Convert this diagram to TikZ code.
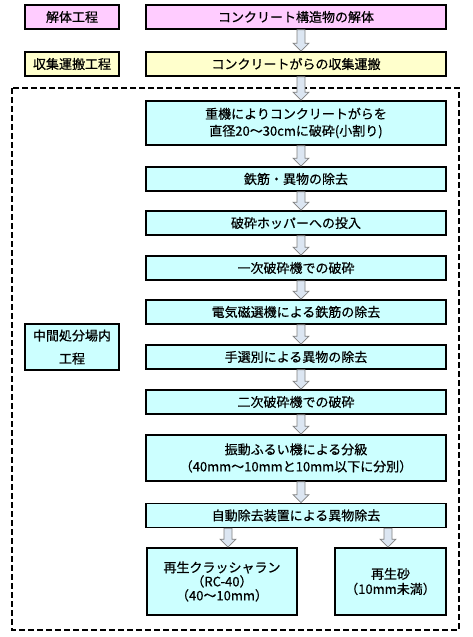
\documentclass[tikz,border=0pt]{standalone}
\usepackage{fontspec}
\setmainfont{Noto Sans CJK JP}[FakeBold=0.5]
\usetikzlibrary{calc}
\definecolor{demolishfill}{HTML}{FFCCFF}
\definecolor{collectfill}{HTML}{FFFFCC}
\definecolor{procfill}{HTML}{CCFFFF}
\definecolor{flowfill}{HTML}{DCE6F2}
\definecolor{flowline}{HTML}{808080}
\newcommand{\flowarrow}[3][5pt]{%
  \filldraw[flow] let \p1=(#2.south), \p2=([xshift=#1]#3.north) in
    (\x2-4pt,\y1) -- (\x2-4pt,\y2+8pt) -- (\x2-8pt,\y2+8pt) -- (\x2,\y2)
    -- (\x2+8pt,\y2+8pt) -- (\x2+4pt,\y2+8pt) -- (\x2+4pt,\y1) -- cycle;}

\begin{document}
\begin{tikzpicture}[x=1pt, y=-1pt,
        every node/.style={font=\fontsize{13}{17}\selectfont},
        stagebox/.style={draw, line width=1.6pt, minimum width=94pt, minimum height=24pt, inner sep=0pt, align=center},
        procbox/.style={draw, line width=1.6pt, fill=procfill, minimum width=300pt, minimum height=24pt, inner sep=0pt, align=center},
        flow/.style={fill=flowfill, draw=flowline, line width=0.7pt}]
            \useasboundingbox (0,0) rectangle (473,637);
            \node[stagebox, fill=demolishfill] (demolish) at (72,17) {解体工程};
            \node[procbox, fill=demolishfill] (demolishwork) at (296,17) {コンクリート構造物の解体};
            \node[stagebox, fill=collectfill] (collect) at (72,64) {収集運搬工程};
            \node[procbox, fill=collectfill] (collectwork) at (296,64) {コンクリートがらの収集運搬};
            \node[stagebox, fill=procfill, minimum height=46pt, font=\fontsize{13}{23}\selectfont] (plant) at (72,347) {中間処分場内\\工程};
            \draw[line width=1.3pt, dash pattern=on 6pt off 3pt] (12,88) rectangle (459,630);
            \node[procbox, minimum height=44pt] (breakup) at (296,123) {重機によりコンクリートがらを\\直径20～30cmに破砕(小割り)};
            \node[procbox] (rebar) at (296,179) {鉄筋・異物の除去};
            \node[procbox] (hopper) at (296,223) {破砕ホッパーへの投入};
            \node[procbox] (primary) at (296,268) {一次破砕機での破砕};
            \node[procbox] (magnet) at (296,312) {電気磁選機による鉄筋の除去};
            \node[procbox] (handsort) at (296,357) {手選別による異物の除去};
            \node[procbox] (secondary) at (296,402) {二次破砕機での破砕};
            \node[procbox, minimum height=46pt] (sieve) at (296,458) {振動ふるい機による分級\\（40mm～10mmと10mm以下に分別）};
            \node[procbox] (autosort) at (296,515.5) {自動除去装置による異物除去};
            \node[procbox, minimum width=150pt, minimum height=67pt, font=\fontsize{13}{14}\selectfont] (crusherrun) at (222,581.5) {再生クラッシャラン\\（RC-40）\\（40～10mm）};
            \node[procbox, minimum width=111pt, minimum height=67pt, font=\fontsize{13}{15}\selectfont] (sand) at (390.5,581.5) {再生砂\\（10mm未満）};
            \flowarrow{demolishwork}{collectwork}
            \flowarrow{collectwork}{breakup}
            \flowarrow{breakup}{rebar}
            \flowarrow{rebar}{hopper}
            \flowarrow{hopper}{primary}
            \flowarrow{primary}{magnet}
            \flowarrow{magnet}{handsort}
            \flowarrow{handsort}{secondary}
            \flowarrow{secondary}{sieve}
            \flowarrow{sieve}{autosort}
            \flowarrow[6pt]{autosort}{crusherrun}
            \flowarrow[-2.5pt]{autosort}{sand}
        \end{tikzpicture}
\end{document}
